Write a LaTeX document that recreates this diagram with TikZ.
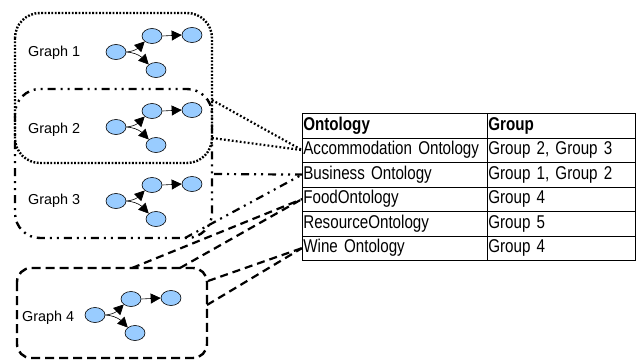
\documentclass[tikz,border=0pt]{standalone}
\usepackage{fontspec}
\setmainfont{Liberation Sans}
\newfontfamily\tabfont[FakeStretch=0.82,WordSpace=0.85]{Liberation Sans}
\usetikzlibrary{arrows.meta,shapes.geometric,bending}
\definecolor{nodeblue}{RGB}{153,204,255}
\tikzset{
  gnode/.style={ellipse,draw=black,line width=0.6pt,fill=nodeblue,minimum width=20pt,minimum height=15pt,inner sep=0pt},
  garrow/.style={line width=0.6pt,-{Triangle[length=10pt,width=10pt]}},
  glabel/.style={font=\fontsize{14.4}{16}\selectfont,anchor=west,inner sep=0pt},
  dotbox/.style={line width=2.4pt,dash pattern=on 1.8pt off 1.6pt,rounded corners=25pt},
  dashdotbox/.style={line width=2.4pt,dash pattern=on 8pt off 5pt on 2pt off 5pt on 2pt off 5pt,rounded corners=25pt},
  dashbox/.style={line width=2.4pt,dash pattern=on 9pt off 5pt,rounded corners=14pt},
  dotline/.style={line width=2.2pt,dash pattern=on 1.8pt off 2.2pt},
  dashdotline/.style={line width=2.2pt,dash pattern=on 8pt off 5pt on 2pt off 5pt on 2pt off 5pt},
  dashline/.style={line width=2.2pt,dash pattern=on 8pt off 5pt},
  cellA/.style={draw,line width=0.7pt,minimum width=185pt,minimum height=24.5pt,inner xsep=1pt,inner ysep=0pt,text width=183pt,align=left,anchor=north west,font=\tabfont\fontsize{18.5}{20}\selectfont},
  cellB/.style={draw,line width=0.7pt,minimum width=148pt,minimum height=24.5pt,inner xsep=1pt,inner ysep=0pt,text width=146pt,align=left,anchor=north west,font=\tabfont\fontsize{18.5}{20}\selectfont},
}
\newcommand\minigraph[3]{%
  \node[gnode] (#1a) at (#2,#3) {};
  \node[gnode] (#1b) at ([shift={(36,-16)}]#1a) {};
  \node[gnode] (#1c) at ([shift={(76,-17)}]#1a) {};
  \node[gnode] (#1d) at ([shift={(40,18)}]#1a) {};
  \draw[garrow] (#1a.east) to[bend right=25] (#1b.south west);
  \draw[garrow] (#1a.east) to[bend left=25] (#1d.north west);
  \draw[garrow] (#1b.east) -- (#1c.west);
}
\begin{document}
\begin{tikzpicture}[x=1pt,y=-1pt]
\useasboundingbox (0,0) rectangle (636,361);
% group boxes
\draw[dotbox] (15,13) rectangle (212,163);
\draw[dashdotbox] (15,89) rectangle (212,238);
\draw[dashbox] (17,268) rectangle (207,358);
% labels
\node[glabel] (l1) at (28,53) {Graph 1};
\node[glabel] (l2) at (28,130) {Graph 2};
\node[glabel] (l3) at (28,201) {Graph 3};
\node[glabel] (l4) at (22,318) {Graph 4};
% mini graphs
\minigraph{ga}{116}{52}
\minigraph{gb}{116}{127}
\minigraph{gc}{116}{201}
\minigraph{gd}{95}{315}
% table
\node[cellA,font=\tabfont\fontsize{18.5}{20}\selectfont\bfseries] (r0a) at (302,113) {Ontology};
\node[cellB,font=\tabfont\fontsize{18.5}{20}\selectfont\bfseries] (r0b) at (487,113) {Group};
\node[cellA] (r1a) at (302,137.5) {Accommodation Ontology};
\node[cellB] (r1b) at (487,137.5) {Group 2, Group 3};
\node[cellA] (r2a) at (302,162) {Business Ontology};
\node[cellB] (r2b) at (487,162) {Group 1, Group 2};
\node[cellA] (r3a) at (302,186.5) {FoodOntology};
\node[cellB] (r3b) at (487,186.5) {Group 4};
\node[cellA] (r4a) at (302,211) {ResourceOntology};
\node[cellB] (r4b) at (487,211) {Group 5};
\node[cellA] (r5a) at (302,235.5) {Wine Ontology};
\node[cellB] (r5b) at (487,235.5) {Group 4};
% connector start points
\coordinate (p1) at (212,100);
\coordinate (p2) at (212,138);
\coordinate (p3) at (214,174);
\coordinate (p4) at (185,238);
\coordinate (p5) at (132,268);
\coordinate (p6) at (180,268);
\coordinate (p7) at (208,281);
\coordinate (p8) at (207,305);
\draw[dotline] (p1) -- (r1a.west);
\draw[dotline] (p2) -- (r1a.west);
\draw[dashdotline] (p3) -- (r2a.west);
\draw[dashdotline] (p4) -- (r2a.west);
\draw[dashline] (p5) -- (r3a.west);
\draw[dashline] (p6) -- (r3a.west);
\draw[dashline] (p7) -- (r5a.west);
\draw[dashline] (p8) -- (r5a.west);
\end{tikzpicture}
\end{document}
